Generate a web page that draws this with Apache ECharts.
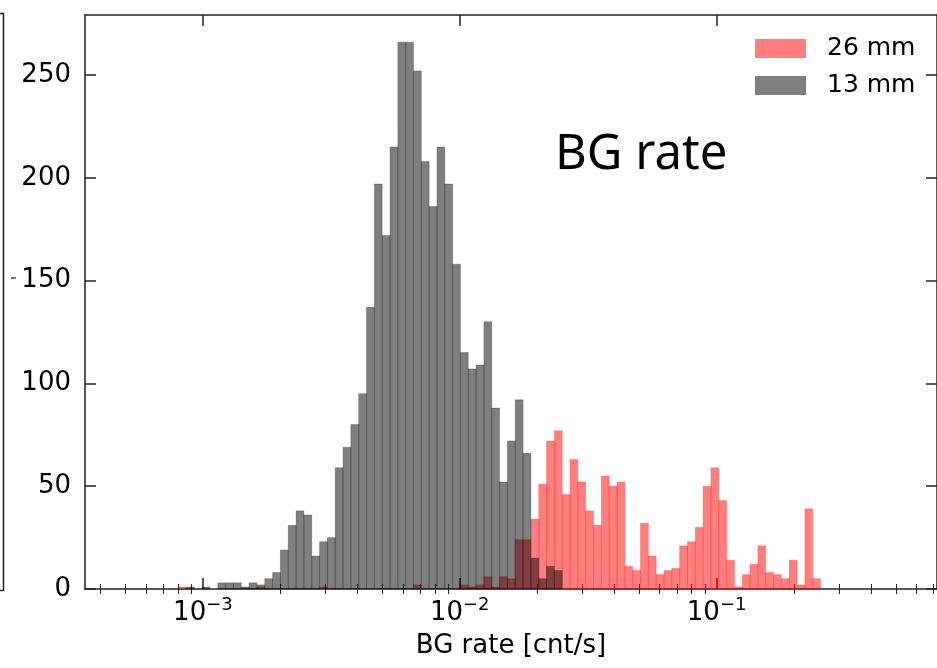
<!DOCTYPE html>
<html>
<head>
<meta charset="utf-8">
<script src="https://cdn.jsdelivr.net/npm/echarts@6/dist/echarts.min.js"></script>
<style>
  html, body { margin: 0; padding: 0; background: #fff; }
  #chart { width: 937px; height: 668px; }
</style>
</head>
<body>
<div id="chart"></div>
<script>
// Log-spaced histogram bins (log10 of rate), shared by both samples
const LOG_BIN_MIN = -3.0943;
const LOG_BIN_MAX = -0.5955;
const N_BINS = 82;

// Counts per bin, 26 mm sample
const counts26 = [
  1, 0, 0, 0, 0, 0, 0, 0, 0, 0,
  1, 0, 0, 0, 0, 0, 0, 0, 1, 0,
  0, 0, 0, 0, 0, 0, 0, 0, 0, 0,
  2, 0, 0, 0, 0, 0, 2, 1, 2, 6,
  1, 6, 5, 24, 24, 34, 51, 72, 77, 46,
  63, 52, 38, 31, 55, 50, 52, 11, 9, 32,
  16, 7, 9, 10, 21, 23, 30, 50, 59, 43,
  14, 1, 7, 12, 21, 8, 7, 5, 14, 2,
  39, 5
];

// Counts per bin, 13 mm sample
const counts13 = [
  0, 1, 0, 1, 0, 3, 3, 3, 1, 3,
  2, 5, 8, 19, 31, 38, 36, 16, 23, 25,
  59, 69, 80, 95, 137, 197, 172, 215, 266, 266,
  252, 208, 186, 215, 197, 158, 115, 107, 109, 130,
  88, 52, 72, 92, 66, 15, 5, 11, 9, 0,
  0, 0, 0, 0, 0, 0, 0, 0, 0, 0,
  0, 0, 0, 0, 0, 0, 0, 0, 0, 0,
  0, 0, 0, 0, 0, 0, 0, 0, 0, 0,
  0, 0
];

const seriesNames = ['26 mm', '13 mm'];

// Axis ranges and ticks
const X_MIN = -3.459, X_MAX = -0.142;          // log10(rate)
const Y_MIN = 0, Y_MAX = 279.2;
const xMajorTicks = [-3, -2, -1];
const yMajorTicks = [0, 50, 100, 150, 200, 250];
const minorDecades = [-4, -3, -2, -1];
const minorMultipliers = [2, 3, 4, 5, 6, 7, 8, 9];

const xMinorTicks = [];
minorDecades.forEach(d => minorMultipliers.forEach(m => {
  const v = d + Math.log10(m);
  if (v > X_MIN && v < X_MAX) xMinorTicks.push(v);
}));

const binWidth = (LOG_BIN_MAX - LOG_BIN_MIN) / N_BINS;
function toBins(counts) {
  return counts.map((c, i) => [LOG_BIN_MIN + i * binWidth, LOG_BIN_MIN + (i + 1) * binWidth, c]);
}

function barRenderer(fill, stroke) {
  return function (params, api) {
    const c = api.value(2);
    if (!c) return null;
    const p0 = api.coord([api.value(0), 0]);
    const p1 = api.coord([api.value(1), c]);
    return {
      type: 'rect',
      shape: { x: p0[0], y: p1[1], width: p1[0] - p0[0], height: p0[1] - p1[1] },
      style: { fill: fill, stroke: stroke, lineWidth: 1 }
    };
  };
}

const FONT = 'DejaVu Sans';
const FS = 26;
const AXIS_COLOR = '#222';

function supLabel(v) {
  return '{b|10}{s|\u2212' + Math.abs(v) + '}';
}

const baseX = { type: 'value', min: X_MIN, max: X_MAX, splitLine: { show: false } };

const chart = echarts.init(document.getElementById('chart'), null, { renderer: 'canvas' });
chart.setOption({
  animation: false,
  backgroundColor: '#fff',
  grid: { left: 85, right: -2, top: 15, bottom: 79, containLabel: false },
  legend: {
    orient: 'vertical',
    left: 750, top: 31,
    itemWidth: 51, itemHeight: 19, itemGap: 12,
    icon: 'rect',
    textStyle: { fontFamily: FONT, fontSize: 25, color: '#000', padding: [0, 0, 0, 16] },
    data: seriesNames
  },
  xAxis: [
    Object.assign({}, baseX, {
      position: 'bottom',
      axisLine: { show: true, onZero: false, lineStyle: { color: AXIS_COLOR, width: 1.5 } },
      axisTick: { show: true, inside: true, length: 11, customValues: xMajorTicks, lineStyle: { color: AXIS_COLOR, width: 1.5 } },
      axisLabel: {
        show: true, customValues: xMajorTicks, margin: 7,
        formatter: supLabel,
        rich: {
          b: { fontFamily: FONT, fontSize: FS, color: '#000' },
          s: { fontFamily: FONT, fontSize: 18, color: '#000', padding: [0, 0, 17, 0] }
        }
      },
      name: 'BG rate [cnt/s]', nameLocation: 'middle', nameGap: 44,
      nameTextStyle: { fontFamily: FONT, fontSize: FS, color: '#000' }
    }),
    Object.assign({}, baseX, {
      position: 'bottom',
      axisLine: { show: false },
      axisTick: { show: true, inside: true, length: 5, customValues: xMinorTicks, lineStyle: { color: AXIS_COLOR, width: 1 } },
      axisLabel: { show: false }
    }),
    Object.assign({}, baseX, {
      position: 'top',
      axisLine: { show: true, onZero: false, lineStyle: { color: AXIS_COLOR, width: 1.5 } },
      axisTick: { show: true, inside: true, length: 11, customValues: xMajorTicks, lineStyle: { color: AXIS_COLOR, width: 1.5 } },
      axisLabel: { show: false }
    }),
    Object.assign({}, baseX, {
      position: 'top',
      axisLine: { show: false },
      axisTick: { show: true, inside: true, length: 5, customValues: xMinorTicks, lineStyle: { color: AXIS_COLOR, width: 1 } },
      axisLabel: { show: false }
    })
  ],
  yAxis: [
    {
      type: 'value', min: Y_MIN, max: Y_MAX, position: 'left',
      splitLine: { show: false },
      axisLine: { show: true, onZero: false, lineStyle: { color: AXIS_COLOR, width: 1.5 } },
      axisTick: { show: true, inside: true, length: 11, customValues: yMajorTicks, lineStyle: { color: AXIS_COLOR, width: 1.5 } },
      axisLabel: { show: true, customValues: yMajorTicks, margin: 14, fontFamily: FONT, fontSize: FS, color: '#000' }
    },
    {
      type: 'value', min: Y_MIN, max: Y_MAX, position: 'right',
      splitLine: { show: false },
      axisLine: { show: true, onZero: false, lineStyle: { color: AXIS_COLOR, width: 1.5 } },
      axisTick: { show: true, inside: true, length: 11, customValues: yMajorTicks, lineStyle: { color: AXIS_COLOR, width: 1.5 } },
      axisLabel: { show: false }
    }
  ],
  series: [
    {
      name: seriesNames[0], type: 'custom', xAxisIndex: 0, yAxisIndex: 0,
      itemStyle: { color: 'rgba(255,0,0,0.5)' },
      renderItem: barRenderer('rgba(255,0,0,0.5)', 'rgba(255,0,0,0.22)'),
      encode: { x: [0, 1], y: 2 },
      data: toBins(counts26)
    },
    {
      name: seriesNames[1], type: 'custom', xAxisIndex: 0, yAxisIndex: 0,
      itemStyle: { color: 'rgba(0,0,0,0.5)' },
      renderItem: barRenderer('rgba(0,0,0,0.5)', 'rgba(0,0,0,0.22)'),
      encode: { x: [0, 1], y: 2 },
      data: toBins(counts13)
    }
  ],
  graphic: [
    {
      type: 'text', left: 555, top: 131,
      style: { text: 'BG rate', fontFamily: '"Comic Sans MS", "Noto Sans", sans-serif', fontSize: 49, fill: '#000' }
    },
    // edge of the neighbouring panel on the left
    { type: 'line', shape: { x1: 3.5, y1: 13, x2: 3.5, y2: 591 }, style: { stroke: '#222', lineWidth: 1.5 } },
    { type: 'line', shape: { x1: 0, y1: 13.5, x2: 3.5, y2: 13.5 }, style: { stroke: '#222', lineWidth: 1.5 } },
    { type: 'line', shape: { x1: 0, y1: 590.5, x2: 3.5, y2: 590.5 }, style: { stroke: '#222', lineWidth: 1.5 } },
    { type: 'line', shape: { x1: 11, y1: 278, x2: 16, y2: 278 }, style: { stroke: '#444', lineWidth: 1.5 } }
  ]
});
</script>
</body>
</html>
